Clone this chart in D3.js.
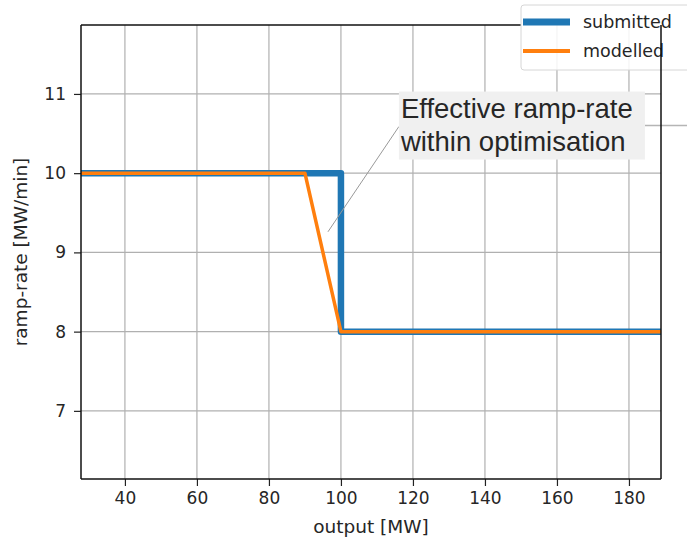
<!DOCTYPE html>
<html>
<head>
<meta charset="utf-8">
<script src="https://cdn.jsdelivr.net/npm/d3@7"></script>
<style>
  body { margin: 0; background: #fff; }
  svg text { font-family: "DejaVu Sans", sans-serif; fill: #262626; }
</style>
</head>
<body>
<svg></svg>
<script>
// data
const submittedX = [27.8, 100, 100, 189];
const submittedY = [10, 10, 8, 8];
const modelledX = [27.8, 90, 100, 189];
const modelledY = [10, 10, 8, 8];
const xTicks = [40, 60, 80, 100, 120, 140, 160, 180];
const yTicks = [7, 8, 9, 10, 11];
const seriesNames = ['submitted', 'modelled'];
const noteLines = ['Effective ramp-rate', 'within optimisation'];
const notePoint = [96.4, 9.26];   // where the arrow points (data units)
const noteAt = [116.1, 11.03];    // top-left of the note box (data units)

const run = () => {
  const W = 687, H = 542;
  const m = { left: 81, right: 661, top: 25, bottom: 479 };
  const svg = d3.select('svg').attr('width', W).attr('height', H);

  const x = d3.scaleLinear().domain([27.8, 188.9]).range([m.left, m.right]);
  const y = d3.scaleLinear().domain([6.14, 11.87]).range([m.bottom, m.top]);

  // grid
  svg.append('g').selectAll('line').data(xTicks).enter().append('line')
    .attr('x1', d => x(d)).attr('x2', d => x(d))
    .attr('y1', m.top).attr('y2', m.bottom)
    .attr('stroke', '#b0b0b0').attr('stroke-width', 1.2);
  svg.append('g').selectAll('line').data(yTicks).enter().append('line')
    .attr('y1', d => y(d)).attr('y2', d => y(d))
    .attr('x1', m.left).attr('x2', m.right)
    .attr('stroke', '#b0b0b0').attr('stroke-width', 1.2);

  // lines
  const line = d3.line().x(d => x(d[0])).y(d => y(d[1]));
  const sub = submittedX.map((v, i) => [v, submittedY[i]]);
  const mod = modelledX.map((v, i) => [v, modelledY[i]]);
  svg.append('clipPath').attr('id', 'clip').append('rect')
    .attr('x', m.left).attr('y', m.top)
    .attr('width', m.right - m.left).attr('height', m.bottom - m.top);
  const plot = svg.append('g').attr('clip-path', 'url(#clip)');
  plot.append('path').attr('d', line(sub)).attr('fill', 'none')
    .attr('stroke', '#1f77b4').attr('stroke-width', 6.5).attr('stroke-linejoin', 'round');
  plot.append('path').attr('d', line(mod)).attr('fill', 'none')
    .attr('stroke', '#ff7f0e').attr('stroke-width', 3.5).attr('stroke-linejoin', 'round');

  // axes
  const xAxis = svg.append('g').attr('transform', `translate(0,${m.bottom})`)
    .call(d3.axisBottom(x).tickValues(xTicks).tickFormat(d3.format('d')).tickSize(7).tickPadding(6));
  const yAxis = svg.append('g').attr('transform', `translate(${m.left},0)`)
    .call(d3.axisLeft(y).tickValues(yTicks).tickFormat(d3.format('d')).tickSize(7).tickPadding(8));
  [xAxis, yAxis].forEach(g => {
    g.select('.domain').remove();
    g.selectAll('line').attr('stroke', '#222').attr('stroke-width', 1.2);
    g.selectAll('text').style('font-size', '17px').attr('fill', '#262626');
  });
  svg.append('line').attr('x1', m.left).attr('x2', m.right).attr('y1', m.bottom).attr('y2', m.bottom)
    .attr('stroke', '#111').attr('stroke-width', 1.5);
  svg.append('line').attr('x1', m.left).attr('x2', m.left).attr('y1', m.top).attr('y2', m.bottom)
    .attr('stroke', '#111').attr('stroke-width', 1.5);
  svg.append('line').attr('x1', m.left).attr('x2', 521).attr('y1', m.top).attr('y2', m.top)
    .attr('stroke', '#111').attr('stroke-width', 1.5);

  svg.append('text').attr('x', (m.left + m.right) / 2).attr('y', 533)
    .attr('text-anchor', 'middle').style('font-size', '18.5px').text('output [MW]');
  svg.append('text').attr('transform', `translate(27,${(m.top + m.bottom) / 2}) rotate(-90)`)
    .attr('text-anchor', 'middle').style('font-size', '18.5px').text('ramp-rate [MW/min]');

  // annotation
  const bx = x(noteAt[0]), by = y(noteAt[1]);
  svg.append('line').attr('x1', bx).attr('y1', by + 35)
    .attr('x2', x(notePoint[0])).attr('y2', y(notePoint[1]))
    .attr('stroke', '#999').attr('stroke-width', 1);
  svg.append('line').attr('x1', bx + 246).attr('x2', W).attr('y1', 125.5).attr('y2', 125.5)
    .attr('stroke', '#b5b5b5').attr('stroke-width', 1.5);
  svg.append('rect').attr('x', bx).attr('y', by).attr('width', 246).attr('height', 68)
    .attr('fill', '#f0f0f0');
  svg.append('g').selectAll('text').data(noteLines).enter().append('text')
    .attr('x', bx + 2).attr('y', (d, i) => by + 26 + i * 33.5)
    .style('font-family', '"Liberation Sans", Arial, sans-serif')
    .style('font-size', '27.5px').attr('fill', '#111').text(d => d);

  // legend
  const colors = ['#1f77b4', '#ff7f0e'];
  const widths = [7, 4];
  svg.append('rect').attr('x', 521).attr('y', 5).attr('width', 190).attr('height', 65)
    .attr('rx', 3).attr('fill', '#fff').attr('fill-opacity', 0.85)
    .attr('stroke', '#d6d6d6').attr('stroke-width', 1);
  const leg = svg.append('g').selectAll('g').data(seriesNames).enter().append('g')
    .attr('transform', (d, i) => `translate(523,${22 + i * 29})`);
  leg.append('line').attr('x1', 0).attr('x2', 47)
    .attr('stroke', (d, i) => colors[i]).attr('stroke-width', (d, i) => widths[i]);
  leg.append('text').attr('x', 60).attr('dy', '0.35em').style('font-size', '17.5px').text(d => d);

  // right spine drawn above legend
  svg.append('line').attr('x1', m.right).attr('x2', m.right).attr('y1', m.top).attr('y2', m.bottom)
    .attr('stroke', '#111').attr('stroke-width', 1.5);
};

run();
</script>
</body>
</html>
